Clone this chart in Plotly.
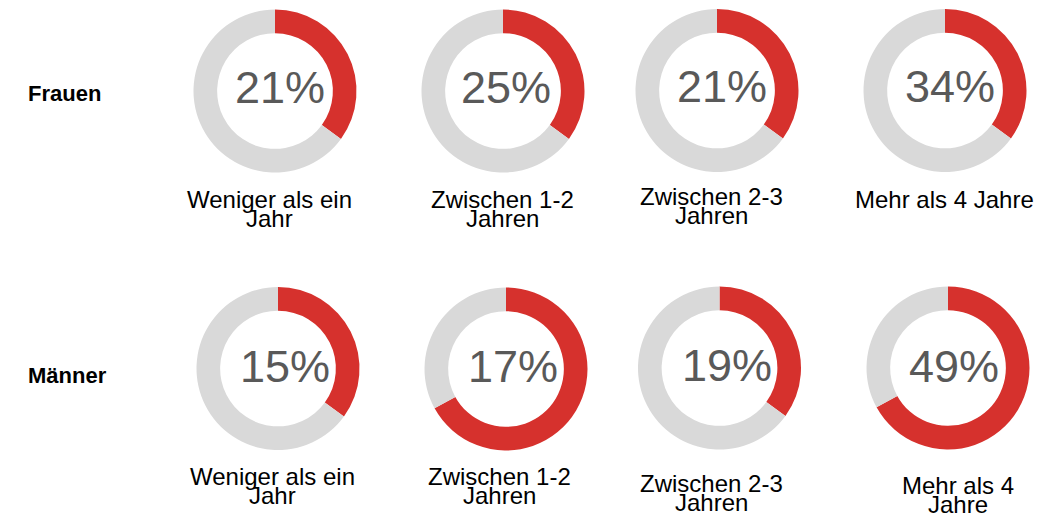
import plotly.graph_objects as go

# ---- data ----
groups = ["Frauen", "Männer"]
categories_frauen = ["Weniger als ein\nJahr", "Zwischen 1-2\nJahren", "Zwischen 2-3\nJahren", "Mehr als 4 Jahre"]
categories_maenner = ["Weniger als ein\nJahr", "Zwischen 1-2\nJahren", "Zwischen 2-3\nJahren", "Mehr als 4\nJahre"]
pct_labels_frauen = ["21%", "25%", "21%", "34%"]
pct_labels_maenner = ["15%", "17%", "19%", "49%"]
arc_frauen = [35, 35, 35, 35]      # red arc share as drawn
arc_maenner = [35, 67, 35, 67]

# ---- layout (pixels in the page) ----
W, H = 1061, 514
OFF = 8  # page body margin
RED, GRAY, TXT = "#D6312D", "#D9D9D9", "#595959"
FONT = "Liberation Sans, Arial, sans-serif"
D = 163  # donut diameter in px

centers = [[(275, 91), (503, 91), (717, 90.5), (945, 90.5)],
           [(278, 368.5), (506, 369), (719.5, 368), (948, 368)]]
pct_pos = [[(280, 87), (506, 87), (721.5, 86), (950, 86)],
           [(285, 366), (513, 366), (726.5, 365), (954, 366)]]
label_pos = [[(269, 199), (502.5, 199), (711, 196), (944.5, 199)],
             [(272.5, 476), (499, 476), (711, 483), (958, 485)]]
line_pitch = 19
group_pos = [(64, 94), (67.5, 375)]

def fx(x): return (x - OFF) / W
def fy(y): return 1 - (y - OFF) / H

fig = go.Figure()
annotations = []
rows = [(arc_frauen, pct_labels_frauen, categories_frauen),
        (arc_maenner, pct_labels_maenner, categories_maenner)]
for r, (arcs, pcts, cats) in enumerate(rows):
    for c in range(4):
        cx, cy = centers[r][c]
        v = arcs[c]
        fig.add_trace(go.Pie(
            values=[v, 100 - v], labels=["a", "b"], sort=False,
            direction="clockwise", rotation=0, hole=0.71,
            marker=dict(colors=[RED, GRAY], line=dict(width=0)),
            textinfo="none", hoverinfo="skip", showlegend=False,
            domain=dict(x=[fx(cx - D / 2), fx(cx + D / 2)],
                        y=[fy(cy + D / 2), fy(cy - D / 2)])))
        px_, py_ = pct_pos[r][c]
        annotations.append(dict(x=fx(px_), y=fy(py_), xref="paper", yref="paper",
                                text=pcts[c], showarrow=False, xanchor="center", yanchor="middle",
                                font=dict(family=FONT, size=45, color=TXT)))
        lx, ly = label_pos[r][c]
        for i, line in enumerate(cats[c].split("\n")):
            annotations.append(dict(x=fx(lx), y=fy(ly + i * line_pitch), xref="paper", yref="paper",
                                    text=line, showarrow=False, xanchor="center", yanchor="middle",
                                    font=dict(family=FONT, size=24, color="#000000")))

for g, (gx, gy) in zip(groups, group_pos):
    annotations.append(dict(x=fx(gx), y=fy(gy), xref="paper", yref="paper",
                            text="<b>" + g + "</b>", showarrow=False, xanchor="center", yanchor="middle",
                            font=dict(family=FONT, size=22, color="#000000")))

fig.update_layout(width=W, height=H, margin=dict(l=0, r=0, t=0, b=0),
                  paper_bgcolor="white", plot_bgcolor="white",
                  annotations=annotations)
fig.write_html("out.html")
